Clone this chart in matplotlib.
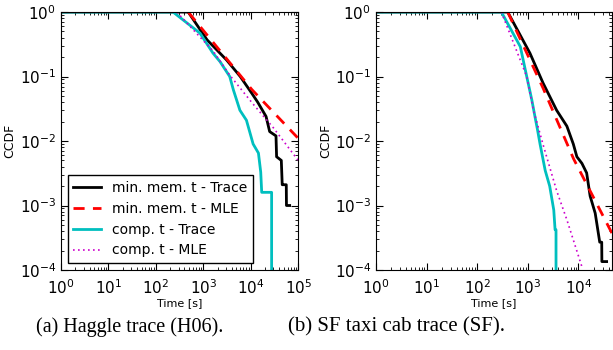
import matplotlib
matplotlib.use('Agg')
import matplotlib.pyplot as plt
from matplotlib.ticker import LogLocator, NullFormatter

# Haggle (H06)
h_mem_t = [1, 480, 1200, 3100, 6000, 10500, 14000, 21000, 25000, 34000, 35000, 44000, 46000, 49000, 56000, 56500, 66000]
h_mem_c = [1, 1, 0.37, 0.18, 0.10, 0.055, 0.04, 0.024, 0.014, 0.012, 0.0057, 0.005, 0.0021, 0.0021, 0.0021, 0.001, 0.001]
h_mem_mle_t = [480, 10500, 1e5]
h_mem_mle_c = [1, 0.063, 0.011]
h_comp_t = [1, 230, 850, 1600, 2250, 3600, 4300, 5900, 8100, 11200, 14500, 16200, 17000, 27500, 27500]
h_comp_c = [1, 1, 0.47, 0.23, 0.17, 0.10, 0.062, 0.03, 0.021, 0.009, 0.0065, 0.0033, 0.0016, 0.0016, 1e-4]
h_comp_mle_t = [275, 850, 1600, 3600, 11000, 30000, 1e5]
h_comp_mle_c = [1, 0.41, 0.25, 0.105, 0.038, 0.016, 0.005]

# SF taxi cab (SF)
s_mem_t = [1, 400, 1100, 2000, 3700, 5900, 7900, 9300, 11700, 14500, 17000, 21400, 23000, 26300, 28800, 29000, 36000]
s_mem_c = [1, 1, 0.23, 0.079, 0.03, 0.017, 0.009, 0.0057, 0.0045, 0.0032, 0.0014, 0.00076, 0.00053, 0.00027, 0.00027, 0.000135, 0.000135]
s_mem_mle_t = [400, 2000, 8000, 46000]
s_mem_mle_c = [1, 0.066, 0.0053, 0.00037]
s_comp_t = [1, 300, 710, 950, 1200, 1380, 1550, 1740, 2200, 2700, 3250, 3450, 3600, 3600]
s_comp_c = [1, 1, 0.29, 0.10, 0.043, 0.024, 0.015, 0.009, 0.0035, 0.002, 0.00085, 0.00042, 0.00042, 1e-4]
s_comp_mle_t = [300, 950, 1290, 2050, 3700, 5900, 11700]
s_comp_mle_c = [1, 0.10, 0.03, 0.0082, 0.0017, 0.0006, 0.000112]

labels = ['min. mem. t - Trace', 'min. mem. t - MLE', 'comp. t - Trace', 'comp. t - MLE']
captions = ['(a) Haggle trace (H06).', '(b) SF taxi cab trace (SF).']

fig = plt.figure(figsize=(6.13, 3.5), dpi=100)
ax1 = fig.add_axes([0.0995, 0.2286, 0.387, 0.737])
ax2 = fig.add_axes([0.6134, 0.2286, 0.385, 0.737])

panels = [
    (ax1, h_mem_t, h_mem_c, h_mem_mle_t, h_mem_mle_c, h_comp_t, h_comp_c, h_comp_mle_t, h_comp_mle_c, 1e5),
    (ax2, s_mem_t, s_mem_c, s_mem_mle_t, s_mem_mle_c, s_comp_t, s_comp_c, s_comp_mle_t, s_comp_mle_c, 4.6e4),
]

for ax, mt, mc, mlt, mlc, ct, cc, clt, clc, xmax in panels:
    ax.loglog(mt, mc, color='black', lw=2, label=labels[0])
    ax.loglog(mlt, mlc, color='red', lw=2, ls=(0, (4, 3)), label=labels[1])
    ax.loglog(ct, cc, color='#00bfbf', lw=2, label=labels[2])
    ax.loglog(clt, clc, color='#cc00cc', lw=1.2, ls=(0, (1, 2)), label=labels[3])
    ax.set_xlim(1, xmax)
    ax.set_ylim(1e-4, 1)
    for axis in (ax.xaxis, ax.yaxis):
        axis.set_major_locator(LogLocator(base=10, numticks=20))
        axis.set_minor_locator(LogLocator(base=10, subs=range(2, 10), numticks=200))
        axis.set_minor_formatter(NullFormatter())
    ax.set_xlabel('Time [s]', fontsize=8, labelpad=1)
    ax.set_ylabel('CCDF', fontsize=9, labelpad=2)
    ax.tick_params(which='both', direction='in', top=True, right=True, labelsize=11)
    ax.tick_params(which='major', length=5)
    ax.tick_params(which='minor', length=2.5)
    ax.tick_params(axis='x', pad=6)

leg = ax1.legend(loc='lower left', fontsize=10, fancybox=False, framealpha=1,
                 edgecolor='black', handlelength=2.0, borderaxespad=0.5)
leg.get_frame().set_linewidth(1.0)

fig.text(0.212, 0.066, captions[0], ha='center', va='center', fontsize=14.5, family='Liberation Serif')
fig.text(0.647, 0.066, captions[1], ha='center', va='center', fontsize=15, family='Liberation Serif')

fig.savefig('out.png', dpi=100)
plt.close(fig)
